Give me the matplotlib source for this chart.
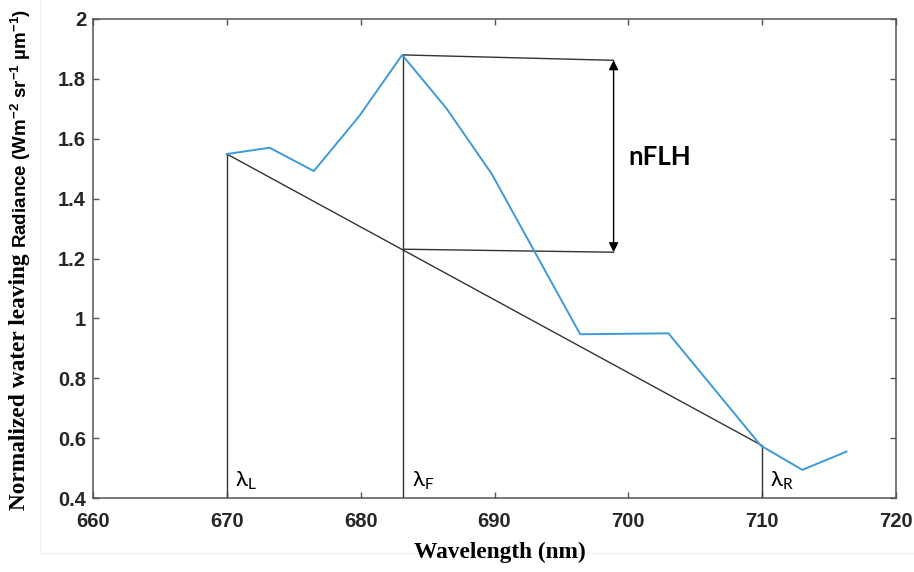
import numpy as np
import matplotlib
matplotlib.use("Agg")
import matplotlib.pyplot as plt
from matplotlib.patches import Rectangle

# spectrum
wavelength = [670.0, 673.2, 676.5, 679.9, 683.1, 686.4, 689.8, 696.4, 703.0, 709.9, 713.0, 716.3]
radiance = [1.549, 1.570, 1.492, 1.676, 1.880, 1.702, 1.482, 0.947, 0.950, 0.575, 0.494, 0.555]

# the three bands used for the fluorescence line height
band_names = ["L", "F", "R"]
band_wl = [670.0, 683.2, 710.0]
band_top = [1.549, 1.880, 0.575]
baseline_f = 1.231

# the nFLH marker
marker_wl = 698.9
marker_top = 1.862
marker_bottom = 1.221

xticks = [660, 670, 680, 690, 700, 710, 720]
yticks = [0.4, 0.6, 0.8, 1.0, 1.2, 1.4, 1.6, 1.8, 2.0]
ytick_labels = ["0.4", "0.6", "0.8", "1", "1.2", "1.4", "1.6", "1.8", "2"]

line_col = "#333333"
blue = "#3d9ad8"

fig = plt.figure(figsize=(9.14, 5.72), dpi=100)
fig.patches.append(Rectangle((40 / 914, 19 / 572), 1.0, 1.0, transform=fig.transFigure,
                             facecolor="none", edgecolor="#f2f2f2", lw=1, zorder=0))
ax = fig.add_axes([93 / 914, 1 - 498 / 572, (896 - 93) / 914, (498 - 19) / 572])

ax.plot(wavelength, radiance, color=blue, lw=1.4, zorder=3)

# baseline between the outer bands
ax.plot([band_wl[0], band_wl[2]], [band_top[0], band_top[2]], color=line_col, lw=1)
# verticals at the bands
for wl, top in zip(band_wl, band_top):
    ax.plot([wl, wl], [0.4, top], color=line_col, lw=1)

# horizontal guides to the arrow
ax.plot([band_wl[1], marker_wl], [band_top[1], marker_top], color=line_col, lw=1)
ax.plot([band_wl[1], marker_wl], [baseline_f, marker_bottom], color=line_col, lw=1)
ax.annotate("", xy=(marker_wl, marker_top), xytext=(marker_wl, marker_bottom),
            arrowprops=dict(arrowstyle="<|-|>", color="black", lw=1,
                            mutation_scale=14, shrinkA=0, shrinkB=0))
ax.text(700.0, 1.539, "nFLH", fontsize=18.5, fontweight="bold", family="Lato",
        ha="left", va="center")

for name, wl in zip(band_names, band_wl):
    ax.text(wl + 0.6, 0.457, "λ$_\\mathregular{" + name + "}$", fontsize=16,
            family="Lato", ha="left", va="center")

ax.set_xlim(660, 720)
ax.set_ylim(0.4, 2.0)
ax.set_xticks(xticks)
ax.set_yticks(yticks)
ax.set_yticklabels(ytick_labels)
ax.tick_params(direction="in", top=True, right=True, length=4, width=1,
               color="#555555", labelsize=14.5)
ax.tick_params(axis="x", pad=10)
ax.tick_params(axis="y", pad=5)
for lab in ax.get_xticklabels() + ax.get_yticklabels():
    lab.set_family("Liberation Sans")
    lab.set_fontweight("bold")
    lab.set_color("#262626")
for s in ax.spines.values():
    s.set_color("#555555")
    s.set_linewidth(1.1)

fig.text(500 / 914, 1 - 552 / 572, "Wavelength (nm)", family="Liberation Serif",
         fontweight="bold", fontsize=16.8, ha="center", va="center")

# y label: serif first half, sans second half
r = fig.canvas.get_renderer()
t1 = fig.text(20 / 914, 1 - 510 / 572, "Normalized water leaving ", family="Liberation Serif",
              fontweight="bold", fontsize=16.8, rotation=90, ha="center", va="bottom")
bb = t1.get_window_extent(renderer=r)
fig.text(21 / 914, bb.y1 / fig.bbox.height,
         "Radiance (Wm$^{\\mathregular{-2}}$ sr$^{\\mathregular{-1}}$ µm$^{\\mathregular{-1}}$)",
         family="Liberation Sans", fontweight="bold", fontsize=13.5, rotation=90,
         ha="center", va="bottom")

fig.savefig("out.png", dpi=100)
